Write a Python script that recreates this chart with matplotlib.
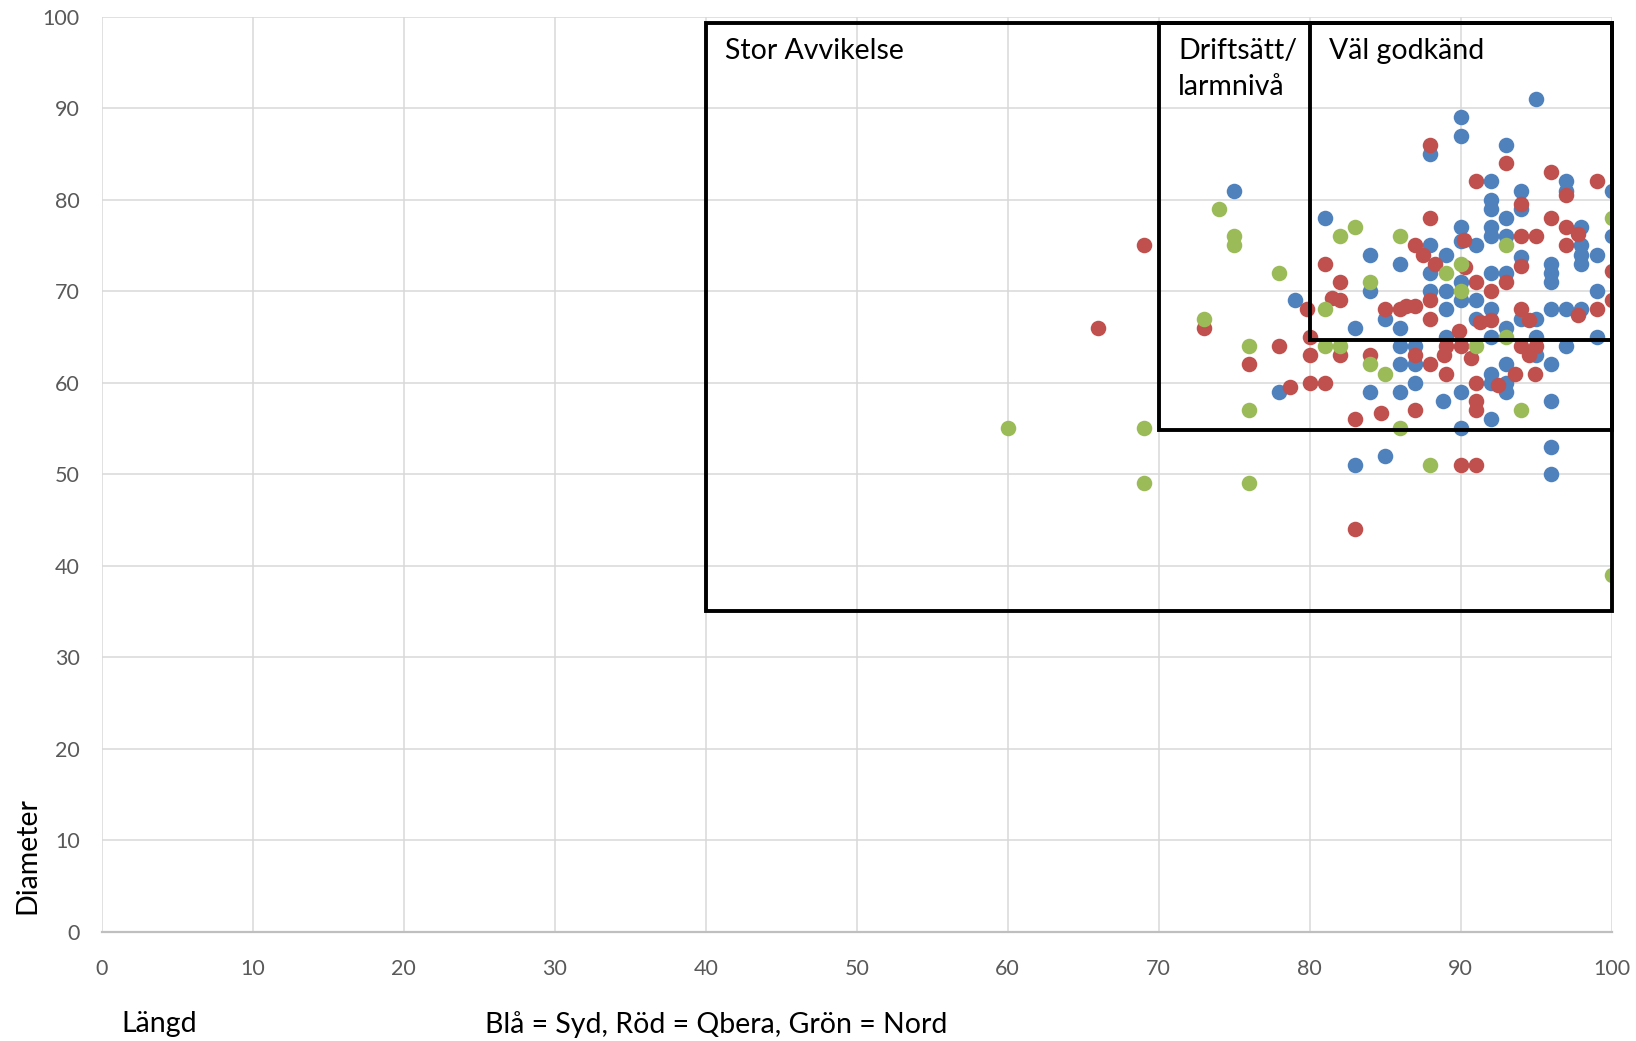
import matplotlib
matplotlib.use("Agg")
import matplotlib.pyplot as plt
from matplotlib.patches import Rectangle

# Syd (blå)
syd_x = [75, 78, 79, 81, 83, 83, 84, 84, 84, 85, 85, 86, 86, 86, 86, 86, 87, 87, 87,
         88, 88, 88, 88, 88.8, 89, 89, 89, 89, 90, 90, 90, 90, 90, 90, 90, 90, 91, 91, 91,
         92, 92, 92, 92, 92, 92, 92, 92, 92, 92, 92, 93, 93, 93, 93, 93, 93, 93, 93,
         94, 94, 94, 94, 95, 95, 95, 95, 96, 96, 96, 96, 96, 96, 96, 96,
         97, 97, 97, 97, 98, 98, 98, 98, 98, 99, 99, 99, 100, 100]
syd_y = [81, 59, 69, 78, 66, 51, 74, 70, 59, 67, 52, 73, 66, 64, 62, 59, 64, 62, 60,
         85, 75, 72, 70, 58, 74, 70, 68, 65, 89, 87, 77, 75.5, 71, 69, 59, 55, 75, 69, 67,
         82, 80, 79, 77, 76, 72, 68, 65, 61, 60, 56, 86, 78, 76, 72, 66, 62, 60, 59,
         81, 79, 73.7, 67, 91, 67, 65, 63, 73, 72, 71, 68, 62, 58, 53, 50,
         82, 81, 68, 64, 77, 75, 74, 73, 68, 74, 70, 65, 81, 76]

# Qbera (röd)
qbera_x = [66, 69, 73, 76, 78, 78.7, 79.8, 80, 80, 80, 81, 81, 81.5, 82, 82, 82, 83, 83,
           84, 84.7, 85, 86, 86.4, 87, 87, 87.5, 88.3, 87, 87, 88, 88, 88, 88, 88,
           89, 88.9, 89, 90, 89.9, 90.2, 90.3, 90.7, 90, 91, 91, 91.3, 91, 91, 91, 91,
           92, 92, 92.5, 93, 93, 93.6, 94, 94, 94, 94, 94.5, 94, 94.5, 95, 95, 94.9,
           96, 96, 97, 97, 97, 97.8, 97.8, 99, 99, 100, 100]
qbera_y = [66, 75, 66, 62, 64, 59.5, 68, 65, 63, 60, 73, 60, 69.3, 71, 69, 63, 56, 44,
           63, 56.7, 68, 68, 68.4, 68.4, 75, 74, 73, 63, 57, 86, 78, 69, 67, 62,
           64, 63, 61, 64, 65.7, 75.6, 72.6, 62.7, 51, 82, 71, 66.6, 60, 58, 57, 51,
           70, 66.8, 59.7, 84, 71, 61, 79.5, 76, 72.8, 68, 66.8, 64, 63, 76, 64, 61,
           83, 78, 80.5, 77, 75, 76.3, 67.4, 82, 68, 72.2, 69]

# Nord (grön)
nord_x = [60, 69, 69, 73, 74, 75, 75, 76, 76, 76, 78, 81, 81, 82, 82, 83, 84, 84, 85,
          86, 86, 88, 89, 90, 90, 91, 93, 93, 94, 100, 100]
nord_y = [55, 55, 49, 67, 79, 76, 75, 64, 57, 49, 72, 68, 64, 76, 64, 77, 71, 62, 61,
          76, 55, 51, 72, 73, 70, 64, 75, 65, 57, 78, 39]

# gränsrutor: (x0, y0, x1, y1)
box_names = ["Stor Avvikelse", "Driftsätt/\nlarmnivå", "Väl godkänd"]
box_limits = [(40, 35, 100, 99.3), (70, 54.8, 100, 99.3), (80, 64.7, 100, 99.3)]

colors = {"syd": "#4F81BD", "qbera": "#C0504D", "nord": "#9BBB59"}
FONT = ["Lato", "DejaVu Sans"]


def plot_chart():
    plt.rcParams["font.family"] = FONT
    fig = plt.figure(figsize=(16.36, 10.41), dpi=100)
    ax = fig.add_axes([0.0623, 0.105, 0.9228, 0.879])

    ax.scatter(syd_x, syd_y, s=125, color=colors["syd"], linewidths=0, zorder=3)
    ax.scatter(qbera_x, qbera_y, s=125, color=colors["qbera"], linewidths=0, zorder=4)
    ax.scatter(nord_x, nord_y, s=125, color=colors["nord"], linewidths=0, zorder=5)

    for name, (x0, y0, x1, y1) in zip(box_names, box_limits):
        ax.add_patch(Rectangle((x0, y0), x1 - x0, y1 - y0, fill=False,
                               edgecolor="black", linewidth=2.8, zorder=6, clip_on=False))
        ax.text(x0 + 1.3, y1 - 1.6, name, fontsize=20.5, va="top", ha="left",
                linespacing=1.5, zorder=7)

    ax.set_xlim(0, 100)
    ax.set_ylim(0, 100)
    ax.set_xticks(range(0, 101, 10))
    ax.set_yticks(range(0, 101, 10))
    ax.grid(True, color="#d9d9d9", linewidth=1.1)
    ax.set_axisbelow(True)
    for side in ["top", "right", "left"]:
        ax.spines[side].set_visible(False)
    ax.spines["bottom"].set_color("#bfbfbf")
    ax.spines["bottom"].set_linewidth(1.6)
    ax.tick_params(length=0, labelsize=15.5, labelcolor="#595959")
    ax.tick_params(axis="x", pad=20)
    ax.tick_params(axis="y", pad=16)

    fig.text(0.017, 0.178, "Diameter", rotation=90, fontsize=20.5, ha="center", va="center")
    fig.text(0.074, 0.016, "Längd", fontsize=20.5, ha="left", va="center")
    fig.text(0.438, 0.016, "Blå = Syd, Röd = Qbera, Grön = Nord", fontsize=20.5,
             ha="center", va="center")

    fig.savefig("out.png", dpi=100)


def main():
    plot_chart()


if __name__ == "__main__":
    main()
